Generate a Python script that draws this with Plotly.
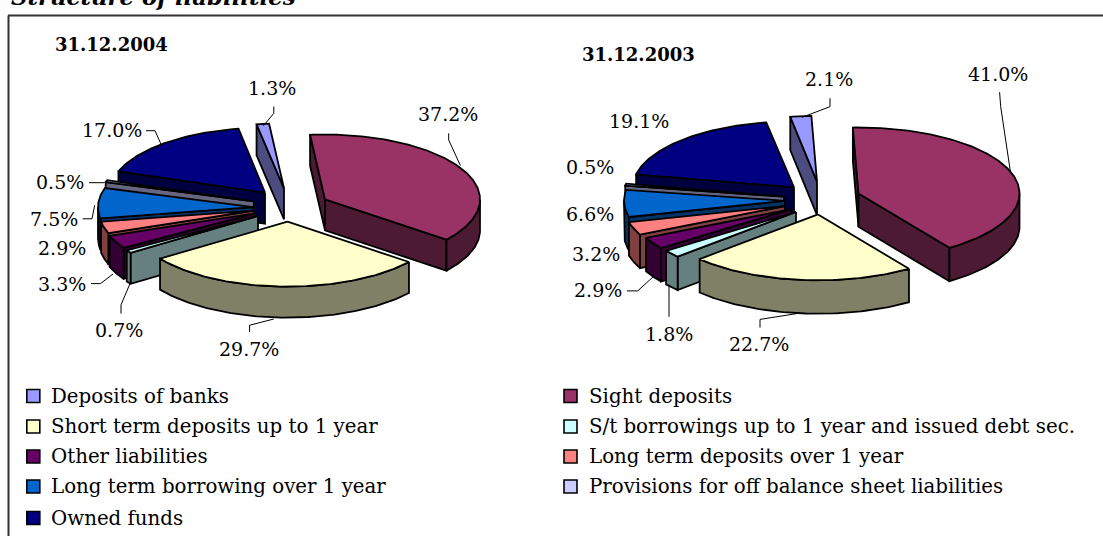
import math
import plotly.graph_objects as go

categories = ["Deposits of banks", "Sight deposits", "Short term deposits up to 1 year",
              "S/t borrowings up to 1 year and issued debt sec.", "Other liabilities",
              "Long term deposits over 1 year", "Long term borrowing over 1 year",
              "Provisions for off balance sheet liabilities", "Owned funds"]
values_2004 = [1.3, 37.2, 29.7, 0.7, 3.3, 2.9, 7.5, 0.5, 17.0]
values_2003 = [2.1, 41.0, 22.7, 1.8, 2.9, 3.2, 6.6, 0.5, 19.1]

top_colors = ["#9999FF", "#993366", "#FFFFCC", "#CCFFFF", "#660066", "#FF8080", "#0066CC", "#CCCCFF", "#000080"]
side_colors = ["#4C4C80", "#4D1A33", "#808066", "#668080", "#330033", "#804040", "#003366", "#666680", "#000040"]
draw_order = [8, 0, 1, 7, 6, 5, 4, 3, 2]
FONT = "DejaVu Serif"

# pie layout (pixel-mapped axes): exploded apex of each slice, radii, depth, first-slice angle
apex_2004 = [(284, 188.3), (325, 199.4), (287.5, 221.7), (258, 215.9), (255, 213.4), (253.8, 210.6), (253, 207.2), (253.8, 201.3), (265, 192.6)]
apex_2003 = [(817, 181.7), (858.5, 193.4), (818, 214.4), (796, 212), (791, 209.2), (785, 206), (785, 200.8), (784, 196.6), (794, 187.3)]
pie_2004 = dict(a=155, b=64.9, depth=31, start=-10.2)
pie_2003 = dict(a=161, b=65.9, depth=33.4, start=-9.56)

fig = go.Figure()


def pt(c, th, a, b):
    r = math.radians(th)
    return c[0] + a * math.sin(r), c[1] - b * math.cos(r)


def poly(pts, fill, name):
    xs = [p[0] for p in pts] + [pts[0][0]]
    ys = [p[1] for p in pts] + [pts[0][1]]
    fig.add_trace(go.Scatter(x=xs, y=ys, mode="lines", fill="toself", fillcolor=fill,
                             line=dict(color="#000000", width=1.8), name=name,
                             hoverinfo="name", showlegend=False))


def draw_pie(values, apexes, a, b, depth, start):
    spans, t = [], start
    for v in values:
        spans.append((t, t + v * 3.6))
        t += v * 3.6
    for i in draw_order:
        t0, t1 = spans[i]
        c = apexes[i]
        side, top, name = side_colors[i], top_colors[i], categories[i]
        # radial walls facing the viewer
        if math.sin(math.radians(t0)) < 0:
            o = pt(c, t0, a, b)
            poly([c, o, (o[0], o[1] + depth), (c[0], c[1] + depth)], side, name)
        if math.sin(math.radians(t1)) > 0:
            o = pt(c, t1, a, b)
            poly([c, o, (o[0], o[1] + depth), (c[0], c[1] + depth)], side, name)
        # front rim
        lo, hi = t0, t1
        for shift in (0, 360, -360):
            l2, h2 = max(lo + shift, 90), min(hi + shift, 270)
            if h2 > l2:
                n = max(2, int(h2 - l2) + 2)
                arc = [pt(c, l2 + (h2 - l2) * k / (n - 1), a, b) for k in range(n)]
                poly(arc + [(p[0], p[1] + depth) for p in reversed(arc)], side, name)
        # top face
        n = max(2, int(t1 - t0) + 2)
        poly([c] + [pt(c, t0 + (t1 - t0) * k / (n - 1), a, b) for k in range(n)], top, name)


draw_pie(values_2004, apex_2004, **pie_2004)
draw_pie(values_2003, apex_2003, **pie_2003)

leaders = [
    [(273.8, 106.5), (273.8, 113.3), (263.4, 125.8)],
    [(448.7, 133.3), (448.7, 140), (460.4, 165.5)],
    [(146, 130.7), (155, 130.7), (161, 144.2)],
    [(89, 182.7), (104, 182.7)],
    [(82.6, 218.8), (92, 218.8), (94.7, 205.2)],
    [(91, 283.6), (100.5, 283.6), (113, 274)],
    [(121, 313.6), (121, 304.9), (130, 283.6)],
    [(249.6, 332), (249.6, 325.2), (273.8, 319)],
    [(830, 98.3), (830, 106.7), (802, 117.3)],
    [(999.6, 92.2), (1000.7, 106.7), (1010.4, 171.7)],
    [(627, 290.9), (637.7, 290.9), (654, 276)],
    [(669, 316.8), (669, 285.3)],
    [(760, 327.6), (760, 319.4), (800, 313.1)],
]
for seg in leaders:
    fig.add_trace(go.Scatter(x=[p[0] for p in seg], y=[p[1] for p in seg], mode="lines",
                             line=dict(color="#000000", width=1), hoverinfo="skip", showlegend=False))

label_pos_2004 = [(272, 88), (448, 114.2), (249, 349), (119, 330), (62, 283.6), (62, 248.3), (54, 219.4), (60, 182), (112, 129.7)]
label_pos_2003 = [(829, 79.2), (998, 73.6), (759, 343.8), (668.5, 334), (597.5, 289.9), (596, 253.7), (589.5, 214.4), (589.5, 167.4), (639, 120.7)]

annotations = []


def label(x, y, text, size=18, anchor="center", **kw):
    annotations.append(dict(x=x, y=y, xref="x", yref="y", text=text, showarrow=False, xanchor=anchor,
                            yanchor="middle", font=dict(family=FONT, size=size, color="#000000", **kw)))


for vals, positions in ((values_2004, label_pos_2004), (values_2003, label_pos_2003)):
    for v, (x, y) in zip(vals, positions):
        label(x, y, f"{v:.1f}%", size=19)

label(111, 44.5, "<b>31.12.2004</b>", size=18)
label(638, 54.1, "<b>31.12.2003</b>", size=18)
annotations.append(dict(x=9, y=1 + 3 / 536, xref="x", yref="paper", text="<b><i>Structure of liabilities</i></b>",
                        showarrow=False, xanchor="left", yanchor="middle",
                        font=dict(family=FONT, size=22.8, color="#000000")))

legend_x = [33.3, 570.5]
legend_y = [396, 426.5, 456.5, 486.5, 518]
for i, name in enumerate(categories):
    col, row = i % 2, i // 2
    fig.add_trace(go.Scatter(x=[legend_x[col]], y=[legend_y[row]], mode="markers", name=name,
                             marker=dict(symbol="square", size=13, color=top_colors[i],
                                         line=dict(color="#000000", width=1.6)),
                             hoverinfo="name", showlegend=False))
    label(legend_x[col] + 16, legend_y[row], name, size=19.8, anchor="left")

shapes = [
    dict(type="line", xref="x", yref="y", x0=8, y0=15.5, x1=1103, y1=15.5, line=dict(color="#333333", width=2)),
    dict(type="line", xref="x", yref="y", x0=8.5, y0=15.5, x1=8.5, y1=536, line=dict(color="#333333", width=2)),
]

fig.update_layout(
    width=1103, height=536, margin=dict(l=0, r=0, t=0, b=0), autosize=False,
    paper_bgcolor="#ffffff", plot_bgcolor="#ffffff", showlegend=False,
    xaxis=dict(range=[0, 1103], visible=False, fixedrange=True),
    yaxis=dict(range=[536, 0], visible=False, fixedrange=True),
    annotations=annotations, shapes=shapes,
)
fig.write_html("out.html", config=dict(displayModeBar=False),
               post_script="document.body.style.margin='0';document.body.style.overflow='hidden';")
